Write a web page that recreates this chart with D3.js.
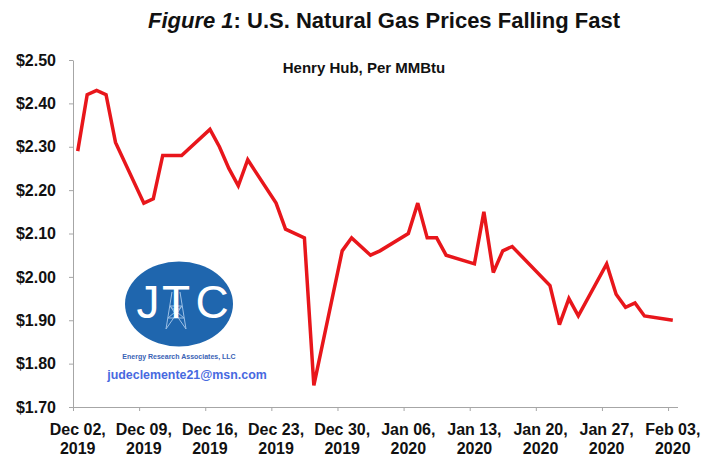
<!DOCTYPE html>
<html>
<head>
<meta charset="utf-8">
<script src="https://cdn.jsdelivr.net/npm/d3@7"></script>
<style>
  html, body { margin: 0; padding: 0; background: #fff; }
  svg { display: block; }
  text { font-family: "Liberation Sans", Arial, sans-serif; }
</style>
</head>
<body>
<svg id="chart" width="720" height="474"></svg>
<script>
// ---- data ----
const dates = [
  "2019-12-02","2019-12-03","2019-12-04","2019-12-05","2019-12-06",
  "2019-12-09","2019-12-10","2019-12-11","2019-12-12","2019-12-13",
  "2019-12-16","2019-12-17","2019-12-18","2019-12-19","2019-12-20",
  "2019-12-23","2019-12-24","2019-12-26","2019-12-27",
  "2019-12-30","2019-12-31","2020-01-02","2020-01-03",
  "2020-01-06","2020-01-07","2020-01-08","2020-01-09","2020-01-10",
  "2020-01-13","2020-01-14","2020-01-15","2020-01-16","2020-01-17",
  "2020-01-21","2020-01-22","2020-01-23","2020-01-24",
  "2020-01-27","2020-01-28","2020-01-29","2020-01-30","2020-01-31",
  "2020-02-03"
];
const prices = [
  2.29, 2.42, 2.43, 2.42, 2.31,
  2.17, 2.18, 2.28, 2.28, 2.28,
  2.34, 2.30, 2.25, 2.21, 2.27,
  2.17, 2.11, 2.09, 1.75,
  2.06, 2.09, 2.05, 2.06,
  2.10, 2.17, 2.09, 2.09, 2.05,
  2.03, 2.15, 2.01, 2.06, 2.07,
  1.98, 1.89, 1.95, 1.91,
  2.03, 1.96, 1.93, 1.94, 1.91,
  1.90
];
const tickDates = ["2019-12-02","2019-12-09","2019-12-16","2019-12-23","2019-12-30",
                   "2020-01-06","2020-01-13","2020-01-20","2020-01-27","2020-02-03"];
const tickLabelsTop = ["Dec 02,","Dec 09,","Dec 16,","Dec 23,","Dec 30,",
                       "Jan 06,","Jan 13,","Jan 20,","Jan 27,","Feb 03,"];
const tickLabelsBottom = ["2019","2019","2019","2019","2019",
                          "2020","2020","2020","2020","2020"];
const yTicks = [1.70, 1.80, 1.90, 2.00, 2.10, 2.20, 2.30, 2.40, 2.50];
const xDomain = ["2019-12-02", "2020-02-04"];
const yDomain = [1.70, 2.50];

// ---- chart ----
const parse = d3.utcParse("%Y-%m-%d");
const HALF_DAY = 12 * 3600 * 1000;
const svg = d3.select("#chart");

const x = d3.scaleUtc().domain(xDomain.map(parse)).range([73, 677.5]);
const y = d3.scaleLinear().domain(yDomain).range([407, 60]);

const data = dates.map((d, i) => ({ date: new Date(parse(d).getTime() + HALF_DAY), value: prices[i] }));

// Title
const title = svg.append("text")
  .attr("x", 384).attr("y", 28)
  .attr("text-anchor", "middle")
  .attr("font-size", 22).attr("font-weight", "bold").attr("fill", "#111");
title.append("tspan").attr("font-style", "italic").text("Figure 1");
title.append("tspan").text(": U.S. Natural Gas Prices Falling Fast");

// Subtitle
svg.append("text")
  .attr("x", 364).attr("y", 73)
  .attr("text-anchor", "middle")
  .attr("font-size", 15).attr("font-weight", "bold").attr("fill", "#111")
  .text("Henry Hub, Per MMBtu");

// Y axis
const yAxis = svg.append("g")
  .attr("transform", "translate(73,0)")
  .call(d3.axisLeft(y).tickValues(yTicks).tickSize(4).tickSizeOuter(0).tickPadding(13)
        .tickFormat(d => "$" + d.toFixed(2)));
yAxis.selectAll("text").attr("font-size", 16).attr("font-weight", "bold").attr("fill", "#111")
  .attr("font-family", "Liberation Sans, Arial, sans-serif");

// X axis
const xAxis = svg.append("g")
  .attr("transform", "translate(0,407)")
  .call(d3.axisBottom(x).tickValues(tickDates.map(parse)).tickSize(4).tickSizeOuter(0)
        .tickFormat(""));

svg.selectAll(".domain, .tick line").attr("stroke", "#a6a6a6").attr("stroke-width", 1);

// X labels (centered on the day)
const xl = svg.append("g");
tickDates.forEach((d, i) => {
  const cx = x(new Date(parse(d).getTime() + HALF_DAY));
  const t = xl.append("text")
    .attr("x", cx).attr("text-anchor", "middle")
    .attr("font-size", 16).attr("font-weight", "bold").attr("fill", "#111");
  t.append("tspan").attr("x", cx).attr("y", 435).text(tickLabelsTop[i]);
  t.append("tspan").attr("x", cx).attr("y", 454).text(tickLabelsBottom[i]);
});

// Logo
const logo = svg.append("g");
logo.append("ellipse").attr("cx", 179).attr("cy", 304).attr("rx", 54).attr("ry", 42.5)
  .attr("fill", "#1f66ae");
// tower lattice under T
const tw = logo.append("g").attr("stroke", "#9cc0e6").attr("stroke-width", 1).attr("fill", "none");
tw.append("path").attr("d", "M166,329 L172,292 M186,329 L180,292 M168,318 L184,318 M170,306 L182,306 M166,329 L182,306 M186,329 L170,306 M168,318 L182,306 M184,318 L170,306");
logo.append("text").attr("x", 148).attr("y", 318).attr("text-anchor", "middle")
  .attr("font-size", 46).attr("fill", "#fff").text("J");
logo.append("text").attr("x", 176).attr("y", 318).attr("text-anchor", "middle")
  .attr("font-size", 46).attr("fill", "#fff").text("T");
logo.append("text").attr("x", 212).attr("y", 318).attr("text-anchor", "middle")
  .attr("font-size", 46).attr("fill", "#fff").text("C");
logo.append("text").attr("x", 179).attr("y", 359).attr("text-anchor", "middle")
  .attr("font-size", 7).attr("font-weight", "bold").attr("fill", "#3a62b5")
  .text("Energy Research Associates, LLC");
logo.append("text").attr("x", 187).attr("y", 379).attr("text-anchor", "middle")
  .attr("font-size", 12.4).attr("font-weight", "bold").attr("fill", "#4769e0")
  .text("judeclemente21@msn.com");

// Line
const line = d3.line().x(d => x(d.date)).y(d => y(d.value));
svg.append("path").datum(data)
  .attr("fill", "none").attr("stroke", "#e8161b").attr("stroke-width", 3.5)
  .attr("stroke-linejoin", "miter").attr("stroke-miterlimit", 3)
  .attr("d", line);
</script>
</body>
</html>
